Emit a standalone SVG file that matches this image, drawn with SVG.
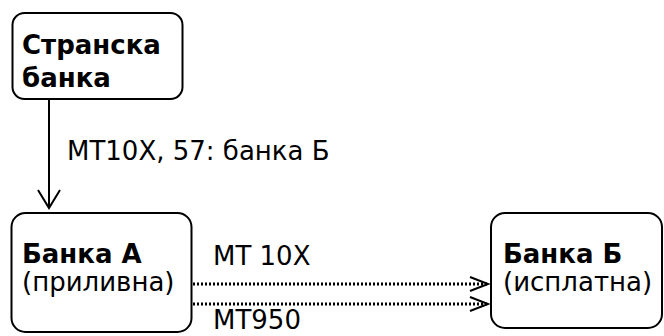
<svg xmlns="http://www.w3.org/2000/svg" width="664" height="336" viewBox="0 0 664 336">
<style>
.box{fill:#fff;stroke:#000;stroke-width:2}
.t{font-family:"DejaVu Sans",Verdana,sans-serif;font-size:26px;fill:#000}
.b{font-weight:bold}
.ln{fill:none;stroke:#000;stroke-width:2}
.dot{fill:none;stroke:#000;stroke-width:3;stroke-dasharray:2 2}
.head{fill:none;stroke:#000;stroke-width:2}
</style>
<rect width="664" height="336" fill="#fff"/>
<g id="connectors">
<line class="ln" x1="49" y1="99" x2="49" y2="208"/>
<path class="head" d="M38,190 L49,208 L60,190"/>
<text class="t" x="67" y="160">MT10X, 57: банка Б</text>
<line class="dot" x1="193" y1="284" x2="487" y2="284"/>
<path class="head" d="M470,277 L488,284 L470,291"/>
<line class="dot" x1="193" y1="304" x2="487" y2="304"/>
<path class="head" d="M470,297 L488,304 L470,311"/>
<text class="t" x="213" y="265">MT 10X</text>
<text class="t" x="213" y="329">MT950</text>
</g>
<g id="foreign-bank">
<rect class="box" x="12.5" y="13" width="170" height="86" rx="12"/>
<text class="t b" x="22" y="54">Странска</text>
<text class="t b" x="22" y="87">банка</text>
</g>
<g id="bank-a">
<rect class="box" x="11.5" y="213" width="180" height="119" rx="14"/>
<text class="t b" x="22" y="263">Банка А</text>
<text class="t" x="22" y="291">(приливна)</text>
</g>
<g id="bank-b">
<rect class="box" x="491" y="213" width="171" height="115" rx="14"/>
<text class="t b" x="503" y="263">Банка Б</text>
<text class="t" x="503" y="291">(исплатна)</text>
</g>
</svg>
